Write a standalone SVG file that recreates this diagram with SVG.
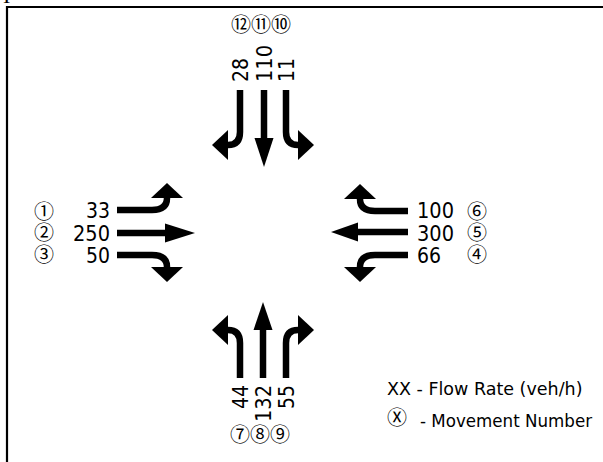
<svg xmlns="http://www.w3.org/2000/svg" width="603" height="462" viewBox="0 0 603 462">
<style>
.shaft{fill:none;stroke:#000;stroke-width:6.5;stroke-linecap:butt}
.head{fill:#000;stroke:none}
.num{font-family:"DejaVu Sans",Verdana,sans-serif;font-size:22px;fill:#000}
.circ{font-family:"Noto Sans CJK JP","DejaVu Sans",sans-serif;font-size:20px;fill:#000}
.leg{font-family:"DejaVu Sans",Verdana,sans-serif;font-size:17.5px;fill:#000}
.frame{fill:none;stroke:#000;stroke-width:2.2}
</style>
<rect width="603" height="462" fill="#fff"/>
<text x="3" y="3" font-family="Liberation Serif" font-size="22">I</text>
<path class="frame" d="M7,462 V7 H603"/>

<g id="connectors">
  <!-- west -->
  <path class="shaft" d="M117,210 H152 Q167,210 167,198"/>
  <polygon class="head" points="151,198 183,198 167,183"/>
  <path class="shaft" d="M117,233 H166"/>
  <polygon class="head" points="165,223.5 165,242.5 195,233"/>
  <path class="shaft" d="M117,255 H152 Q167,255 167,267"/>
  <polygon class="head" points="151,267 183,267 167,282"/>
  <!-- east -->
  <path class="shaft" d="M408,211 H375 Q360,211 360,199"/>
  <polygon class="head" points="344,199 376,199 360,184"/>
  <path class="shaft" d="M408,232 H357"/>
  <polygon class="head" points="358,222.5 358,241.5 331,232"/>
  <path class="shaft" d="M408,255 H375 Q360,255 360,267"/>
  <polygon class="head" points="344,267 376,267 360,282"/>
  <!-- north -->
  <path class="shaft" d="M240,90 V132 Q240,145 228,145"/>
  <polygon class="head" points="228,130 228,160 212,145"/>
  <path class="shaft" d="M264,90 V139"/>
  <polygon class="head" points="254.5,138 273.5,138 264,167"/>
  <path class="shaft" d="M286,90 V132 Q286,145 298,145"/>
  <polygon class="head" points="298,130 298,160 314,145"/>
  <!-- south -->
  <path class="shaft" d="M240,378 V343 Q240,330 228,330"/>
  <polygon class="head" points="228,315 228,345 212,330"/>
  <path class="shaft" d="M263,378 V329"/>
  <polygon class="head" points="253.5,330 272.5,330 263,302"/>
  <path class="shaft" d="M286,378 V343 Q286,330 298,330"/>
  <polygon class="head" points="298,315 298,345 314,330"/>
</g>

<g id="west">
  <text class="circ" x="34" y="219">①</text>
  <text class="circ" x="34" y="240">②</text>
  <text class="circ" x="34" y="262">③</text>
  <text class="num" x="110" y="218" text-anchor="end" textLength="24" lengthAdjust="spacingAndGlyphs">33</text>
  <text class="num" x="110" y="241" text-anchor="end" textLength="37" lengthAdjust="spacingAndGlyphs">250</text>
  <text class="num" x="110" y="263" text-anchor="end" textLength="24" lengthAdjust="spacingAndGlyphs">50</text>
</g>
<g id="east">
  <text class="num" x="417" y="218" textLength="37" lengthAdjust="spacingAndGlyphs">100</text>
  <text class="num" x="417" y="241" textLength="37" lengthAdjust="spacingAndGlyphs">300</text>
  <text class="num" x="417" y="263" textLength="24" lengthAdjust="spacingAndGlyphs">66</text>
  <text class="circ" x="467" y="219">⑥</text>
  <text class="circ" x="467" y="240">⑤</text>
  <text class="circ" x="467" y="262">④</text>
</g>
<g id="north">
  <text class="circ" x="261" y="32" text-anchor="middle">⑫⑪⑩</text>
  <text class="num" transform="translate(248,82) rotate(-90)" textLength="24" lengthAdjust="spacingAndGlyphs">28</text>
  <text class="num" transform="translate(272,82) rotate(-90)" textLength="37" lengthAdjust="spacingAndGlyphs">110</text>
  <text class="num" transform="translate(294,82) rotate(-90)" textLength="24" lengthAdjust="spacingAndGlyphs">11</text>
</g>
<g id="south">
  <text class="num" transform="translate(248,385) rotate(-90)" text-anchor="end" textLength="24" lengthAdjust="spacingAndGlyphs">44</text>
  <text class="num" transform="translate(271,385) rotate(-90)" text-anchor="end" textLength="37" lengthAdjust="spacingAndGlyphs">132</text>
  <text class="num" transform="translate(294,385) rotate(-90)" text-anchor="end" textLength="24" lengthAdjust="spacingAndGlyphs">55</text>
  <text class="circ" x="260" y="442" text-anchor="middle">⑦⑧⑨</text>
</g>
<g id="legend">
  <text class="leg" x="387" y="395">XX - Flow Rate (veh/h)</text>
  <text class="circ" x="387" y="425">Ⓧ</text>
  <text class="leg" x="420" y="427" textLength="172" lengthAdjust="spacingAndGlyphs">- Movement Number</text>
</g>
</svg>
